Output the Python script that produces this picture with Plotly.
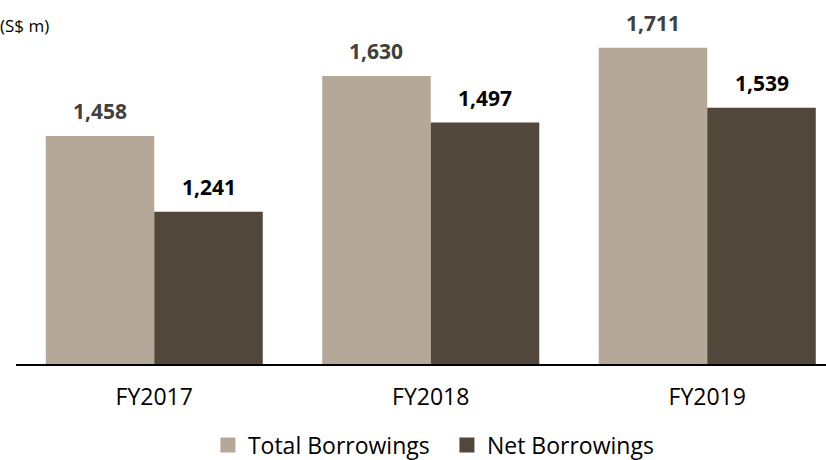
import plotly.graph_objects as go

categories = ["FY2017", "FY2018", "FY2019"]
total_borrowings = [1458, 1630, 1711]
net_borrowings = [1241, 1497, 1539]
series_names = ["Total Borrowings", "Net Borrowings"]
unit_label = "(S$ m)"

TOTAL_COLOR = "#B5A898"
NET_COLOR = "#52473B"
FONT = "Open Sans"

W, H = 826, 460
ML, MR, MT, MB = 16, 0, 0, 96
plot_w = W - ML - MR
plot_h = H - MT - MB
band_px = 276.5
x_min = -0.5
x_max = x_min + plot_w / band_px

fig = go.Figure()
fig.add_trace(go.Bar(x=categories, y=total_borrowings, name=series_names[0],
                     marker=dict(color=TOTAL_COLOR, line=dict(width=0)), showlegend=False))
fig.add_trace(go.Bar(x=categories, y=net_borrowings, name=series_names[1],
                     marker=dict(color=NET_COLOR, line=dict(width=0)), showlegend=False))
# legend entries with larger square swatches
for name, col in zip(series_names, [TOTAL_COLOR, NET_COLOR]):
    fig.add_trace(go.Scatter(x=[None], y=[None], mode="markers", name=name,
                             marker=dict(symbol="square", size=15, color=col),
                             showlegend=True, hoverinfo="skip"))

bargap = 0.215
bar_px = band_px * (1 - bargap) / 2
annotations = []
for cat, v in zip(categories, total_borrowings):
    annotations.append(dict(x=cat, y=v, xref="x", yref="y", text=f"<b>{v:,}</b>",
                            showarrow=False, yanchor="bottom", xanchor="center",
                            xshift=-bar_px / 2, yshift=9,
                            font=dict(family=FONT, size=21, color="#404040")))
for cat, v in zip(categories, net_borrowings):
    annotations.append(dict(x=cat, y=v, xref="x", yref="y", text=f"<b>{v:,}</b>",
                            showarrow=False, yanchor="bottom", xanchor="center",
                            xshift=bar_px / 2, yshift=9,
                            font=dict(family=FONT, size=21, color="#000000")))
annotations.append(dict(x=0, y=1, xref="paper", yref="paper", text=unit_label,
                        showarrow=False, xanchor="right", yanchor="middle",
                        xshift=35, yshift=-25,
                        font=dict(family=FONT, size=17, color="#000000")))

fig.update_layout(
    width=W, height=H,
    margin=dict(l=ML, r=MR, t=MT, b=MB, pad=0, autoexpand=False),
    paper_bgcolor="white", plot_bgcolor="white",
    barmode="group", bargap=bargap, bargroupgap=0,
    font=dict(family=FONT, size=22, color="#000000"),
    showlegend=True,
    legend=dict(orientation="h", x=0.532, xanchor="center", y=-(445 - 364) / plot_h,
                yanchor="middle", font=dict(family=FONT, size=23, color="#000000"),
                entrywidth=194, traceorder="normal"),
    annotations=annotations,
    xaxis=dict(range=[x_min, x_max], showgrid=False, zeroline=False,
               showline=True, linecolor="#000000", linewidth=1.5,
               ticks="", ticklabelstandoff=12,
               tickfont=dict(family=FONT, size=23, color="#000000")),
    yaxis=dict(range=[805, 1848], visible=False, showgrid=False, zeroline=False),
)

fig.write_html("out.html")
